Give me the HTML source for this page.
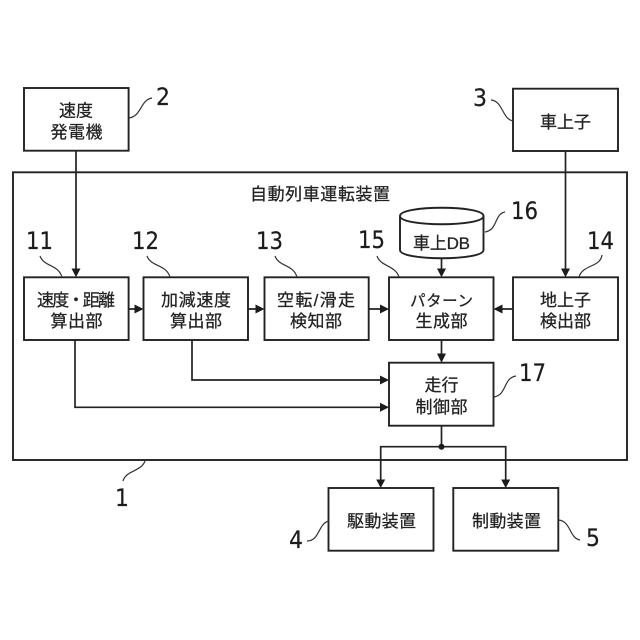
<!DOCTYPE html>
<html><head><meta charset="utf-8"><style>
html,body{margin:0;padding:0;background:#fff}
svg{display:block}
.b{fill:none;stroke:#222;stroke-width:1.9}
.l{fill:none;stroke:#222;stroke-width:1.7}
.c{fill:none;stroke:#333;stroke-width:1.2}
.h{fill:#1c1c1c}
.t{font-family:"Liberation Sans","Noto Sans CJK JP",sans-serif;font-size:17px;fill:#222;stroke:#222;stroke-width:.25}
.k{font-size:15.500px}
.n{font-family:"DejaVu Sans",sans-serif;font-size:24px;fill:#1c1c1c;stroke:#1c1c1c;stroke-width:.2}
</style></head><body>
<svg width="640" height="640" viewBox="0 0 640 640" xmlns="http://www.w3.org/2000/svg">
<rect width="640" height="640" fill="#fff"/>
<rect class="b" x="13" y="172.3" width="614" height="287.7"/>
<rect class="b" x="24" y="88" width="104.6" height="62.7"/>
<rect class="b" x="513" y="88.7" width="105" height="62.3"/>
<rect class="b" x="24" y="277.3" width="104.6" height="62.7"/>
<rect class="b" x="143.5" y="277.3" width="104.5" height="62.7"/>
<rect class="b" x="264.5" y="277.3" width="104.2" height="62.7"/>
<rect class="b" x="389" y="277.3" width="104.5" height="62.7"/>
<rect class="b" x="513" y="277.3" width="105" height="62.7"/>
<rect class="b" x="389" y="362.7" width="104.5" height="63"/>
<rect class="b" x="328.5" y="488" width="105" height="62.7"/>
<rect class="b" x="453.3" y="488" width="105" height="62.7"/>
<path class="b" d="M400 216 C400 205 483.5 205 483.5 216 V250 C483.5 261 400 261 400 250 Z"/>
<path class="b" d="M400 216 C400 227 483.5 227 483.5 216"/>
<path class="l" d="M76 151V270M565.5 151V270M128.6 309H136M248 309H256.500M368.700 309H381M513 309H501M441.500 258.500V270M441.500 340V355M441.500 425.700V446.700M380.700 481V446.700H505.700V481M192 340V380H381M75 340V407.300H381"/>
<polygon class="h" points="71.500,268.500 80.500,268.500 76,277.300"/>
<polygon class="h" points="561,268.500 570,268.500 565.500,277.300"/>
<polygon class="h" points="437,268.500 446,268.500 441.500,277.300"/>
<polygon class="h" points="437,353.500 446,353.500 441.500,362.700"/>
<polygon class="h" points="376.200,479.500 385.200,479.500 380.700,488"/>
<polygon class="h" points="501.200,479.500 510.200,479.500 505.700,488"/>
<polygon class="h" points="134.500,304.500 143.500,309 134.500,313.500"/>
<polygon class="h" points="255.500,304.500 264.500,309 255.500,313.500"/>
<polygon class="h" points="380,304.500 389,309 380,313.500"/>
<polygon class="h" points="502.500,304.500 493.500,309 502.500,313.500"/>
<polygon class="h" points="380,375.500 389,380 380,384.500"/>
<polygon class="h" points="380,402.800 389,407.300 380,411.800"/>
<circle class="h" cx="441.500" cy="446.700" r="3"/>
<path class="c" d="M129 118C142 116 140 100 152 98"/>
<path class="c" d="M491 100C503 101 502 119 513 121"/>
<path class="c" d="M40 256C44 267 58 264 62 277"/>
<path class="c" d="M147 256C151 267 166 264 170 277"/>
<path class="c" d="M275 256C279 267 293 264 297 277"/>
<path class="c" d="M377 256C381 267 395 265 399 277"/>
<path class="c" d="M602 255C600 268 583 264 579 277"/>
<path class="c" d="M485 232C498 230 494 214 505 212"/>
<path class="c" d="M494 397C507 395 503 378 516 376"/>
<path class="c" d="M145 461C141 472 126 470 123 481"/>
<path class="c" d="M307 541C320 541 318 523 329 521"/>
<path class="c" d="M558.500 520C571 521 569 538 580 540"/>
<text class="t" x="250" y="200" textLength="140">自動列車運転装置</text>
<text class="t" x="59" y="116.500" textLength="34">速度</text>
<text class="t" x="50.500" y="138" textLength="52">発電機</text>
<text class="t" x="540" y="128" textLength="51">車上子</text>
<text class="t" x="413" y="249" textLength="57">車上DB</text>
<text class="t" x="37" y="306" textLength="78">速度・距離</text>
<text class="t" x="50.500" y="327" textLength="52">算出部</text>
<text class="t" x="161" y="306" textLength="70">加減速度</text>
<text class="t" x="170" y="327" textLength="52">算出部</text>
<text class="t" x="277" y="306" textLength="78">空転/滑走</text>
<text class="t" x="290" y="327" textLength="52">検知部</text>
<text class="t k" x="410" y="306" textLength="63">パターン</text>
<text class="t" x="415.500" y="327" textLength="52">生成部</text>
<text class="t" x="540" y="306" textLength="51">地上子</text>
<text class="t" x="540" y="327" textLength="51">検出部</text>
<text class="t" x="424.500" y="391" textLength="34">走行</text>
<text class="t" x="415.500" y="413" textLength="52">制御部</text>
<text class="t" x="347" y="527" textLength="69">駆動装置</text>
<text class="t" x="472" y="527" textLength="69">制動装置</text>
<text class="n" x="156" y="105" textLength="14" lengthAdjust="spacingAndGlyphs">2</text>
<text class="n" x="473" y="106" textLength="14" lengthAdjust="spacingAndGlyphs">3</text>
<text class="n" x="26" y="249" textLength="27" lengthAdjust="spacingAndGlyphs">11</text>
<text class="n" x="132" y="249" textLength="27" lengthAdjust="spacingAndGlyphs">12</text>
<text class="n" x="256" y="249" textLength="27" lengthAdjust="spacingAndGlyphs">13</text>
<text class="n" x="358" y="248" textLength="27" lengthAdjust="spacingAndGlyphs">15</text>
<text class="n" x="587" y="249" textLength="27" lengthAdjust="spacingAndGlyphs">14</text>
<text class="n" x="511" y="219" textLength="27" lengthAdjust="spacingAndGlyphs">16</text>
<text class="n" x="519" y="381" textLength="27" lengthAdjust="spacingAndGlyphs">17</text>
<text class="n" x="115" y="506" textLength="14" lengthAdjust="spacingAndGlyphs">1</text>
<text class="n" x="289" y="548" textLength="14" lengthAdjust="spacingAndGlyphs">4</text>
<text class="n" x="586" y="546" textLength="14" lengthAdjust="spacingAndGlyphs">5</text>
</svg>
</body></html>
